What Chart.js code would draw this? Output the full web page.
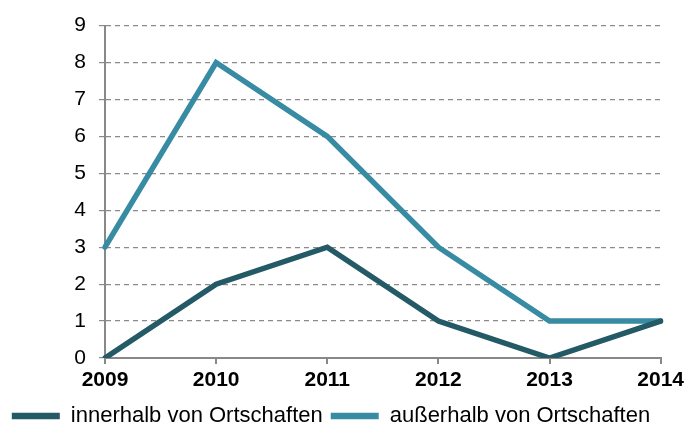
<!DOCTYPE html>
<html>
<head>
<meta charset="utf-8">
<script src="https://cdn.jsdelivr.net/npm/chart.js@4"></script>
<style>
  html, body { margin: 0; padding: 0; background: #fff; }
  #wrap { width: 688px; height: 425px; }
</style>
</head>
<body>
<div id="wrap"><canvas id="myChart" width="688" height="425"></canvas></div>
<script>
// chart data
const years = ['2009', '2010', '2011', '2012', '2013', '2014'];
const innerhalb = [0, 2, 3, 1, 0, 1];
const ausserhalb = [3, 8, 6, 3, 1, 1];
const yTicks = [0, 1, 2, 3, 4, 5, 6, 7, 8, 9];

const darkColor = '#235a66';
const lightColor = '#378ba3';
const fontFamily = 'Liberation Sans, Arial, sans-serif';

const ctx = document.getElementById('myChart').getContext('2d');
new Chart(ctx, {
  type: 'line',
  data: {
    labels: years,
    datasets: [
      {
        label: 'innerhalb von Ortschaften',
        data: innerhalb,
        borderColor: darkColor,
        backgroundColor: darkColor,
        borderWidth: 5.5,
        borderCapStyle: 'round',
        pointRadius: 0,
        tension: 0
      },
      {
        label: 'außerhalb von Ortschaften',
        data: ausserhalb,
        borderColor: lightColor,
        backgroundColor: lightColor,
        borderWidth: 5.5,
        borderCapStyle: 'round',
        pointRadius: 0,
        tension: 0
      }
    ]
  },
  options: {
    responsive: false,
    animation: false,
    layout: { padding: { left: 0, right: 26, top: 23, bottom: -12 } },
    plugins: {
      legend: {
        position: 'bottom',
        labels: {
          usePointStyle: true,
          pointStyle: 'line',
          pointStyleWidth: 48,
          boxHeight: 22,
          padding: 8,
          color: '#000',
          font: { family: fontFamily, size: 22 },
          generateLabels: chart => {
            // thicker legend strokes than the data lines
            const items = Chart.defaults.plugins.legend.labels.generateLabels(chart);
            items.forEach(item => { item.lineWidth = 6.5; });
            return items;
          }
        }
      },
      tooltip: { enabled: false }
    },
    scales: {
      x: {
        offset: false,
        afterFit: axis => { axis.height = 39; },
        grid: { drawOnChartArea: false, tickLength: 6, color: '#888', lineWidth: 2 },
        border: { color: '#888', width: 2 },
        ticks: {
          color: '#000',
          maxRotation: 0,
          padding: 4,
          font: { family: fontFamily, size: 21, weight: 'bold' }
        }
      },
      y: {
        min: 0,
        max: 9,
        afterBuildTicks: axis => { axis.ticks = yTicks.map(v => ({ value: v })); },
        afterFit: axis => { axis.width = 105; },
        grid: { color: '#8a8a8a', lineWidth: 1.2, tickLength: 6, tickBorderDash: [5, 4] },
        border: { color: '#888', width: 2, dash: [5, 4] },
        ticks: {
          color: '#000',
          padding: 13,
          font: { family: fontFamily, size: 21 }
        }
      }
    }
  }
});
</script>
</body>
</html>
